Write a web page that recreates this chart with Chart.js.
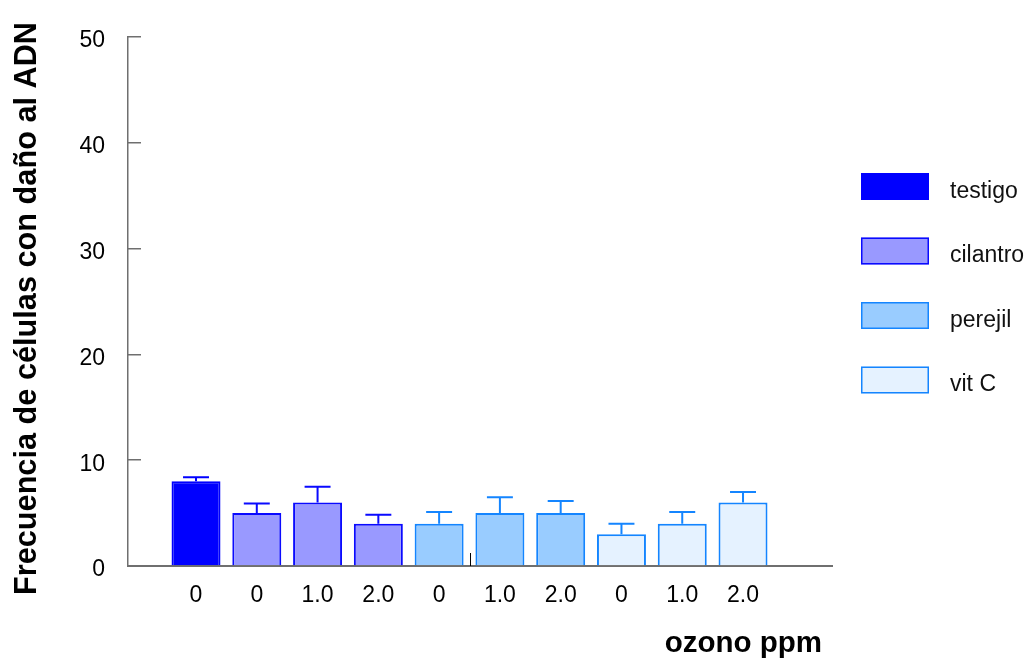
<!DOCTYPE html>
<html lang="es">
<head>
<meta charset="utf-8">
<title>Frecuencia de células con daño al ADN</title>
<script src="https://cdn.jsdelivr.net/npm/chart.js@4/dist/chart.umd.min.js"></script>
<style>
  html, body { margin: 0; padding: 0; background: #ffffff; }
  #chart { display: block; }
</style>
</head>
<body>
<canvas id="chart" width="1032" height="663"></canvas>
<script>
// Tick labels under each bar (ozone dose, ppm), in drawing order
const categories = ['0', '0', '1.0', '2.0', '0', '1.0', '2.0', '0', '1.0', '2.0'];
const seriesNames = ['testigo', 'cilantro', 'perejil', 'vit C'];

// Mean frequency of cells with DNA damage, per treatment
const testigo  = [8];
const cilantro = [5, 6, 4];
const perejil  = [4, 5, 5];
const vitC     = [3, 4, 6];

// Upper error (standard error) for each mean
const testigoErr  = [0.4];
const cilantroErr = [0.9, 1.5, 0.85];
const perejilErr  = [1.1, 1.5, 1.15];
const vitCErr     = [1.0, 1.1, 1.0];

const yTicks = [0, 10, 20, 30, 40, 50];
// x position (in category units) of the small separator tick on the axis
const groupBreaks = [5.5];

const yTitle = 'Frecuencia de células con daño al ADN';
const xTitle = 'ozono ppm';

const style = {
  fill:   ['#0000ff', '#9999ff', '#99ccff', '#e5f2ff'],
  border: ['#0000ff', '#0a0aff', '#1485ff', '#1485ff'],
  text: '#000000',
  axis: '#6f6f6f'
};

const FONT = "'Liberation Sans', Arial, Helvetica, sans-serif";
Chart.defaults.font.family = FONT;
Chart.defaults.color = style.text;

const seriesValues = [testigo, cilantro, perejil, vitC];
const seriesErrors = [testigoErr, cilantroErr, perejilErr, vitCErr];

// Each series occupies consecutive slots 1..10 on the x scale
let slot = 1;
const datasets = seriesValues.map((vals, s) => {
  const data = vals.map((v, j) => ({ x: slot + j, y: v, err: seriesErrors[s][j] }));
  slot += vals.length;
  return {
    label: seriesNames[s],
    data,
    backgroundColor: style.fill[s],
    borderColor: style.border[s],
    borderWidth: 2,
    grouped: false,
    barPercentage: 0.806,
    categoryPercentage: 1
  };
});

// Upward error bars with caps
const errorBars = {
  id: 'errorBars',
  afterDatasetsDraw(chart) {
    const { ctx } = chart;
    const yScale = chart.scales.y;
    chart.data.datasets.forEach((ds, i) => {
      const meta = chart.getDatasetMeta(i);
      meta.data.forEach((bar, j) => {
        const d = ds.data[j];
        const top = yScale.getPixelForValue(d.y + d.err);
        const half = bar.width * 0.265;
        ctx.save();
        ctx.strokeStyle = ds.borderColor;
        ctx.lineWidth = 2;
        ctx.beginPath();
        ctx.moveTo(bar.x, bar.y);
        ctx.lineTo(bar.x, top);
        ctx.moveTo(bar.x - half, top);
        ctx.lineTo(bar.x + half, top);
        ctx.stroke();
        ctx.restore();
      });
    });
  }
};

// Short upward tick separating the first block of treatments from the rest
const breakTicks = {
  id: 'breakTicks',
  afterDraw(chart) {
    const { ctx, chartArea } = chart;
    const xScale = chart.scales.x;
    ctx.save();
    ctx.strokeStyle = '#000000';
    ctx.lineWidth = 1;
    groupBreaks.forEach(v => {
      const px = Math.round(xScale.getPixelForValue(v)) + 0.5;
      ctx.beginPath();
      ctx.moveTo(px, chartArea.bottom);
      ctx.lineTo(px, chartArea.bottom - 13);
      ctx.stroke();
    });
    ctx.restore();
  }
};

// Axis titles: vertical one centred on the plot column, horizontal one right-aligned
const axisTitles = {
  id: 'axisTitles',
  afterDraw(chart, args, opts) {
    const { ctx } = chart;
    ctx.save();
    ctx.fillStyle = style.text;
    ctx.font = 'bold ' + opts.ySize + 'px ' + FONT;
    ctx.textAlign = 'center';
    ctx.textBaseline = 'alphabetic';
    ctx.translate(opts.yBaseline, opts.yCenter);
    ctx.rotate(-Math.PI / 2);
    ctx.fillText(yTitle, 0, 0);
    ctx.restore();

    ctx.save();
    ctx.fillStyle = style.text;
    ctx.font = 'bold ' + opts.xSize + 'px ' + FONT;
    ctx.textAlign = 'right';
    ctx.textBaseline = 'alphabetic';
    ctx.fillText(xTitle, opts.xRight, opts.xBaseline);
    ctx.restore();
  }
};

// Legend column on the right
const sideLegend = {
  id: 'sideLegend',
  afterDraw(chart, args, opts) {
    const { ctx } = chart;
    ctx.save();
    ctx.font = opts.fontSize + 'px ' + FONT;
    ctx.textBaseline = 'alphabetic';
    ctx.textAlign = 'left';
    chart.data.datasets.forEach((ds, i) => {
      const top = opts.top + i * opts.step;
      ctx.fillStyle = ds.backgroundColor;
      ctx.fillRect(opts.left, top, opts.boxWidth, opts.boxHeight);
      ctx.strokeStyle = ds.borderColor;
      ctx.lineWidth = 1.5;
      ctx.strokeRect(opts.left + 0.75, top + 0.75, opts.boxWidth - 1.5, opts.boxHeight - 1.5);
      ctx.fillStyle = opts.color;
      ctx.fillText(ds.label, opts.textLeft, top + opts.baseline);
    });
    ctx.restore();
  }
};

new Chart(document.getElementById('chart'), {
  type: 'bar',
  data: { datasets },
  plugins: [errorBars, breakTicks, axisTitles, sideLegend],
  options: {
    responsive: false,
    animation: false,
    events: [],
    layout: { padding: { top: 37, right: 200, bottom: 0, left: 0 } },
    plugins: {
      legend: { display: false },
      tooltip: { enabled: false },
      axisTitles: { ySize: 30.7, yBaseline: 36, yCenter: 308.5, xSize: 29.5, xRight: 822, xBaseline: 652 },
      sideLegend: {
        left: 861, top: 173, step: 64.5, boxWidth: 68, boxHeight: 27,
        textLeft: 950, baseline: 24.5, fontSize: 23, color: '#111111'
      }
    },
    scales: {
      x: {
        type: 'linear',
        offset: false,
        min: -0.119,
        max: 11.464,
        z: 1,
        afterBuildTicks: s => { s.ticks = categories.map((_, i) => ({ value: i + 1 })); },
        afterFit: s => { s.height = 97; s.paddingLeft = 0; s.paddingRight = 0; },
        ticks: {
          callback: (v, i) => categories[i],
          padding: 16,
          autoSkip: false,
          maxRotation: 0,
          font: { size: 23 },
          color: style.text
        },
        grid: { display: false, drawTicks: false, offset: false },
        border: { display: true, color: style.axis, width: 2 },
        title: { display: false }
      },
      y: {
        min: 0,
        max: 50,
        afterBuildTicks: s => { s.ticks = yTicks.map(v => ({ value: v })); },
        afterFit: s => { s.width = 128; s.paddingTop = 0; s.paddingBottom = 0; },
        ticks: { padding: 36, labelOffset: 4, font: { size: 23 }, color: style.text },
        grid: { drawOnChartArea: false, drawTicks: true, tickLength: -13, color: style.axis, lineWidth: 1.5 },
        border: { display: true, color: style.axis, width: 1.5 },
        title: { display: false }
      }
    }
  }
});
</script>
</body>
</html>
